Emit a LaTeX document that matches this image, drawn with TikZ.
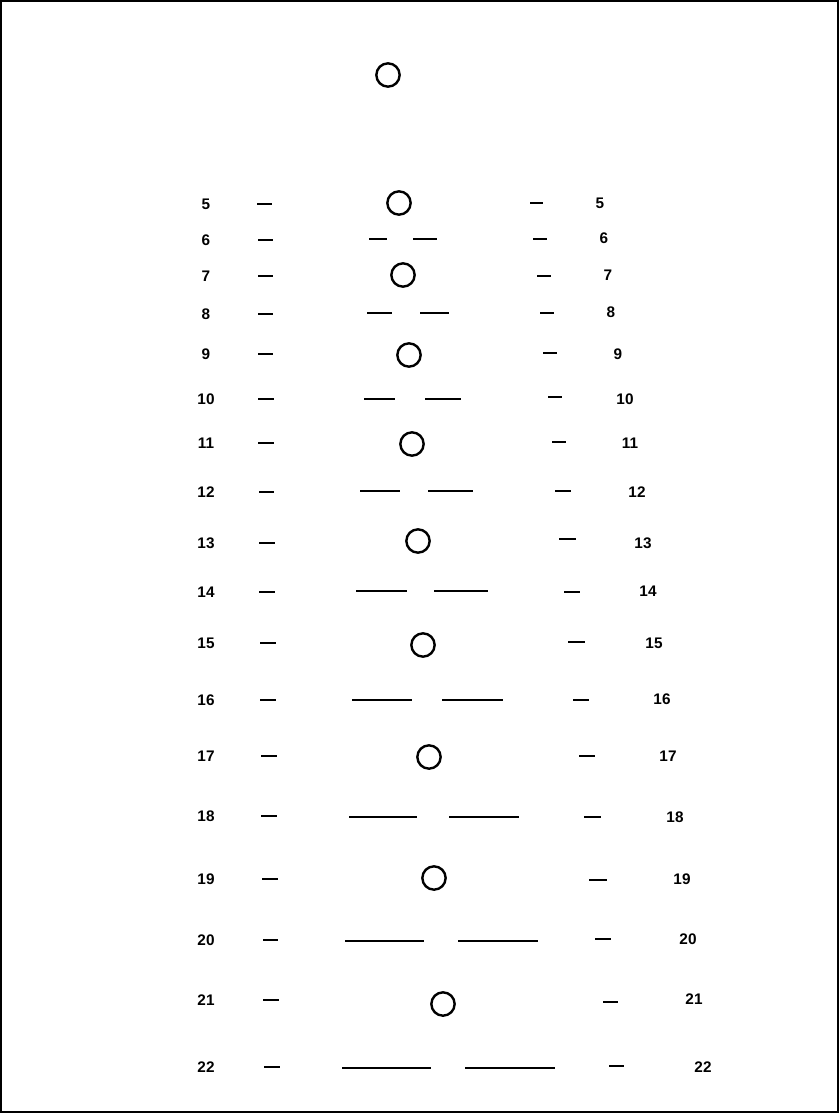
\documentclass[tikz,border=0pt]{standalone}
\usepackage{fontspec}
\setmainfont{Liberation Sans}
\begin{document}
\begin{tikzpicture}[x=0.75pt,y=-0.75pt,
  lab/.style={font=\fontsize{11.5}{13}\selectfont\bfseries, inner sep=0pt, anchor=center},
  ring/.style={circle, draw, line width=1.8pt, minimum size=17.5pt, inner sep=0pt},
  tick/.style={line width=1.8pt},
  bar/.style={line width=1.6pt},
  frame/.style={line width=0.9pt}]
\useasboundingbox (0,0) rectangle (839,1113);
\draw[frame] (1,1) rectangle (838,1112);
% top circle
\node[ring] (top) at (388,75) {};
% circle rows: row, y, left dash x1, x2, circle x, circle y, right dash x1, x2, right dash y, right label x, right label y
\foreach \r/\y/\la/\lb/\cx/\cy/\ra/\rb/\ry/\rx/\rly in {
  5/204/257/272/399/203/530/543/203/600/203,
  7/276/258/273/403/275/537/551/276/608/275,
  9/354/258/273/409/355/543/557/353/618/354,
  11/443/258/274/412/444/552/566/442/630/443,
  13/543/259/275/418/541/559/576/539/643/543,
  15/643/260/276/423/645/568/585/642/654/643,
  17/756/261/277/429/757/579/595/756/668/756,
  19/879/262/278/434/878/589/607/880/682/879,
  21/1000/263/279/443/1004/603/618/1002/694/999}{
  \node[lab] (l\r) at (206,\y) {\r};
  \draw[tick] (\la,\y) -- (\lb,\y);
  \node[ring] (c\r) at (\cx,\cy) {};
  \draw[tick] (\ra,\ry) -- (\rb,\ry);
  \node[lab] (r\r) at (\rx,\rly) {\r};
}
% bar rows: row, y, left dash x1,x2, bar1 x1,x2, bar2 x1,x2, bar y, right dash x1,x2, right dash y, right label x, right label y
\foreach \r/\y/\la/\lb/\pa/\pb/\qa/\qb/\by/\ra/\rb/\ry/\rx/\rly in {
  6/240/258/273/369/387/413/437/239/533/547/239/604/238,
  8/314/258/273/367/392/420/449/313/540/554/313/611/312,
  10/399/258/274/364/395/425/461/399/548/562/397/625/399,
  12/492/259/274/360/400/428/473/491/555/571/491/637/492,
  14/592/259/275/356/407/434/488/591/564/580/592/648/591,
  16/700/260/276/352/412/442/503/700/573/589/700/662/699,
  18/816/261/277/349/417/449/519/817/584/601/817/675/817,
  20/940/263/278/345/424/458/538/941/595/611/939/688/939,
  22/1067/264/280/342/431/465/555/1068/609/624/1066/703/1067}{
  \node[lab] (l\r) at (206,\y) {\r};
  \draw[tick] (\la,\y) -- (\lb,\y);
  \draw[bar] (\pa,\by) -- (\pb,\by);
  \draw[bar] (\qa,\by) -- (\qb,\by);
  \draw[tick] (\ra,\ry) -- (\rb,\ry);
  \node[lab] (r\r) at (\rx,\rly) {\r};
}
\end{tikzpicture}
\end{document}
